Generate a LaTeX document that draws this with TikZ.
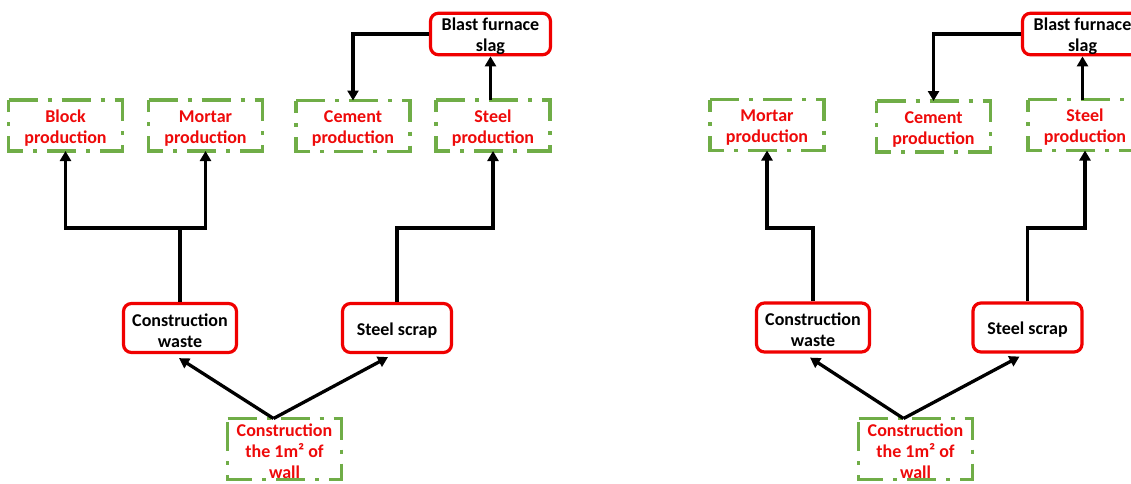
\documentclass[tikz,border=0pt]{standalone}
\usepackage{fontspec}
\setmainfont{Carlito}
\usetikzlibrary{arrows.meta}
\definecolor{boxred}{RGB}{240,0,0}
\definecolor{txtred}{RGB}{238,10,10}
\definecolor{dashgreen}{RGB}{112,173,71}
% extra head room on the first line so the labels sit a little low in their boxes
\newcommand\headroom{\rule{0pt}{17.5pt}}
\begin{document}
\begin{tikzpicture}[x=1pt,y=-1pt,
  every node/.style={font=\fontsize{18}{21}\selectfont\bfseries, align=center, inner sep=0pt},
  stock/.style={draw=boxred, line width=3.2pt, rounded corners=8pt, fill=white, text=black,
                minimum width=113pt, minimum height=49pt},
  process/.style={text=txtred, outer sep=0pt, minimum width=114pt, minimum height=51pt},
  procline/.style={draw=dashgreen, line width=3.2pt, line join=miter,
                   dash pattern=on 29pt off 10pt on 4pt off 10pt},
  flow/.style={line width=3.3pt, -{Triangle[length=10pt,width=11pt]}},
  link/.style={line width=3.3pt}]
\clip (0,0) rectangle (1131,483);
\fill[white] (0,0) rectangle (1131,483);

% ---------------- first scenario ----------------
\node[process] (block)  at (65.5,125.5) {\headroom Block\\production};
\node[process] (mortar) at (205.5,125.5) {\headroom Mortar\\production};
\node[process] (cement) at (353,126) {\headroom Cement\\production};
\node[process] (steel)  at (493,125.5) {\headroom Steel\\production};
\node[stock, minimum width=120pt, minimum height=37pt] (blast) at (490.5,34) {\headroom Blast furnace\\slag};
\node[stock] (waste) at (180,328) {\headroom Construction\\waste};
\node[stock, minimum width=109pt] (scrap) at (397,328) {\headroom Steel scrap};
\node[process, minimum height=61pt] (wall) at (284.5,449) {\headroom Construction\\the 1m² of\\wall};

% ---------------- second scenario ----------------
\node[process] (mortarB) at (767,125) {\headroom Mortar\\production};
\node[process] (cementB) at (933.5,126.5) {\headroom Cement\\production};
\node[process] (steelB)  at (1085,125) {\headroom Steel\\production};
\node[stock, minimum width=120pt, minimum height=37pt] (blastB) at (1082.5,34) {\headroom Blast furnace\\slag};
\node[stock] (wasteB) at (813,327.5) {\headroom Construction\\waste};
\node[stock, minimum width=109pt] (scrapB) at (1027.5,327.5) {\headroom Steel scrap};
\node[process, minimum height=61pt] (wallB) at (915.5,449) {\headroom Construction\\the 1m² of\\wall};

% dash-dot outlines of the process boxes, run clockwise from the top left corner
\foreach \n in {block,mortar,cement,steel,wall,mortarB,cementB,steelB,wallB}
  \draw[procline] (\n.north west) -- (\n.north east) -- (\n.south east)
                  -- (\n.south west) -- cycle;

% ---------------- connectors, first scenario ----------------
\coordinate (row) at (0,228);
\draw[link] (waste.north) -- (waste.north |- row) coordinate (j1);
\draw[flow] (j1) -| (block.south);
\draw[flow] (j1) -| (mortar.south);
\draw[flow] (scrap.north) |- (steel.south |- row) -- (steel.south);
\draw[flow] (blast.west) -| (cement.north);
\draw[flow] (blast.south |- steel.north) -- (blast.south);
\draw[flow] ([xshift=-11pt]wall.north) -- ([xshift=-1pt,yshift=-4pt]waste.south);
\draw[flow] ([xshift=-11pt]wall.north) -- ([xshift=-9pt,yshift=-3pt]scrap.south);

% ---------------- connectors, second scenario ----------------
\draw[flow] (wasteB.north) |- (mortarB.south |- row) -- (mortarB.south);
\draw[flow] (scrapB.north) |- (steelB.south |- row) -- (steelB.south);
\draw[flow] (blastB.west) -| (cementB.north);
\draw[flow] (blastB.south |- steelB.north) -- (blastB.south);
\draw[flow] ([xshift=-12pt]wallB.north) -- ([xshift=-3pt,yshift=-4pt]wasteB.south);
\draw[flow] ([xshift=-12pt]wallB.north) -- ([xshift=-8pt,yshift=-3pt]scrapB.south);
\end{tikzpicture}
\end{document}
